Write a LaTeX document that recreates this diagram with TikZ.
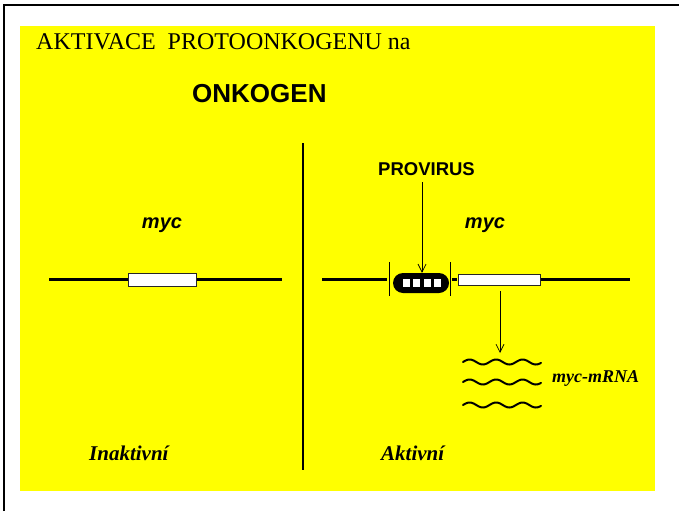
\documentclass[tikz,border=0pt]{standalone}
\usepackage{fontspec}
\usetikzlibrary{arrows.meta}
\newfontfamily\sansf{Liberation Sans}
\newfontfamily\seriff{Liberation Serif}
\definecolor{bgyellow}{RGB}{255,255,0}
\tikzset{
  dna/.style={line width=3pt},
  gene/.style={draw=black!85, line width=1pt, fill=white},
  tick/.style={line width=0.7pt},
  pointer/.style={line width=0.7pt, -{Straight Barb[length=8pt,width=8pt,line width=0.7pt]}},
  wave/.style={line width=2pt, line cap=round},
  lbl/.style={inner sep=0pt, anchor=base west},
}
\begin{document}
\begin{tikzpicture}[x=1pt,y=-1pt]
\useasboundingbox (0,0) rectangle (679,511);
% white page with frame on top and left
\fill[white] (0,0) rectangle (679,511);
\draw[line width=2.5pt] (4,511) -- (4,5) -- (679,5);
% yellow panel
\fill[bgyellow] (20,26) rectangle (655,491);

% headings
\node[lbl, font=\seriff\fontsize{24}{28}\selectfont] (title) at (36,49) {AKTIVACE\ \ PROTOONKOGENU na};
\node[lbl, font=\sansf\bfseries\fontsize{26}{30}\selectfont] (onko) at (192,102) {ONKOGEN};

% divider
\coordinate (dtop) at (303,143);
\coordinate (dbot) at (303,470);
\draw[line width=1.2pt] (dtop) -- (dbot);

% inactive gene
\coordinate (l1) at (49,279);
\coordinate (l2) at (282,279);
\draw[dna] (l1) -- (l2);
\node[gene, minimum width=68pt, minimum height=13pt, inner sep=0pt] (gL) at (162,279.5) {};
\node[anchor=base, inner sep=0pt, font=\sansf\bfseries\itshape\fontsize{20}{24}\selectfont] (mycL) at (162,228) {myc};
\node[lbl, font=\seriff\bfseries\itshape\fontsize{21}{24}\selectfont] (inakt) at (89,460) {Inaktivní};

% active gene with inserted provirus
\coordinate (r1) at (322,279);
\coordinate (r2) at (387,279);
\draw[dna] (r1) -- (r2);
\coordinate (t1a) at (389,262); \coordinate (t1b) at (389,296);
\coordinate (t2a) at (450,262); \coordinate (t2b) at (450,296);
\draw[tick] (t1a) -- (t1b);
\draw[tick] (t2a) -- (t2b);
\node[fill=black, rounded corners=10pt, minimum width=56pt, minimum height=20pt, inner sep=0pt] (pro) at (421,283) {};
\foreach \i in {0,1,2,3}
  \fill[white] (403+\i*10.3,278.5) rectangle ++(7,8);
\coordinate (d1) at (452,279);
\coordinate (d2) at (457,279);
\draw[dna] (d1) -- (d2);
\node[gene, minimum width=82pt, minimum height=11pt, inner sep=0pt] (gR) at (499,279.5) {};
\coordinate (r3) at (541,279);
\coordinate (r4) at (630,279);
\draw[dna] (r3) -- (r4);
\node[anchor=base, inner sep=0pt, font=\sansf\bfseries\itshape\fontsize{20}{24}\selectfont] (mycR) at (485,228) {myc};
\node[lbl, font=\sansf\bfseries\fontsize{18.5}{22}\selectfont] (prov) at (378,175) {PROVIRUS};
\coordinate (pa) at (422,182);
\draw[pointer] (pa) -- (pro.north -| pa);
\coordinate (ma) at (500,291);
\coordinate (mb) at (500,353);
\draw[pointer] (ma) -- (mb);

% transcripts
\foreach \c in {362,382,405}
  \draw[wave] plot[domain=0:78, samples=90, smooth] ({463+\x}, {\c-2.5*sin(\x/26.5*360)});
\node[lbl, font=\seriff\bfseries\itshape\fontsize{18}{22}\selectfont] (mrna) at (552,382) {myc-mRNA};
\node[lbl, font=\seriff\bfseries\itshape\fontsize{21}{24}\selectfont] (akt) at (381,460) {Aktivní};
\end{tikzpicture}
\end{document}
